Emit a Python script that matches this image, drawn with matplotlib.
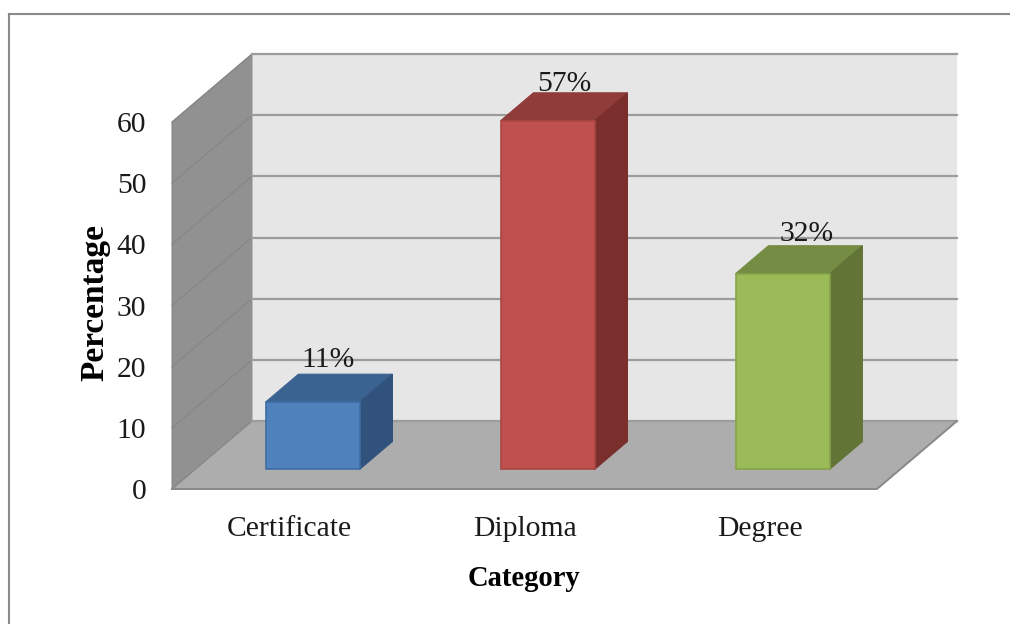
# 3D look column chart, Excel style, drawn by hand in 2D axes
import matplotlib
matplotlib.use("Agg")
import matplotlib.pyplot as plt
from matplotlib.lines import Line2D
from matplotlib.patches import Polygon

categories = ["Certificate", "Diploma", "Degree"]
percent = [11, 57, 32]
yticks = [0, 10, 20, 30, 40, 50, 60]

front = ["#4f81bd", "#c0504d", "#9bbb59"]
top = ["#3b6391", "#8f3c3a", "#748c43"]
side = ["#31527c", "#7a2f2d", "#627536"]
edge = ["#3f6da3", "#a94643", "#86a34a"]

# depth of the box, in data units
dx, dy = 0.34, 11.1
# bars sit between these fractions of the depth
d0, d1 = 0.29, 0.70
bar_w = 0.4
label_nudge = [-1.5, 0, 8]  # px
label_lift = [7, 2, 5]  # px

W, H = 1010, 624
plt.rcParams["font.family"] = ["Liberation Serif"]
fig = plt.figure(figsize=(W/100, H/100), dpi=100)
ax = fig.add_axes([172/W, (H-489)/H, 705/W, 367/H])
ax.set(xlim=[-0.5, 2.5], ylim=[0, 60])
for s in ax.spines.values():
    s.set_visible(False)
ax.patch.set_visible(False)

# outer frame, runs off the right and bottom
for xs, ys in (([9/W, 1], [1-14/H, 1-14/H]), ([9/W, 9/W], [0, 1-14/H])):
    fig.add_artist(Line2D(xs, ys, color="#8a8a8a", lw=1.5))

x0, x1 = ax.get_xlim()
y0, y1 = ax.get_ylim()


def poly(pts, fc, ec="none", lw=0.8, z=1):
    ax.add_patch(Polygon(pts, closed=True, fc=fc, ec=ec, lw=lw, zorder=z, clip_on=False))


# walls and floor
poly([(x0+dx, y0+dy), (x1+dx, y0+dy), (x1+dx, y1+dy), (x0+dx, y1+dy)], "#e6e6e6")
poly([(x0, y0), (x0+dx, y0+dy), (x0+dx, y1+dy), (x0, y1)], "#919191", "#8a8a8a")
poly([(x0, y0), (x1, y0), (x1+dx, y0+dy), (x0+dx, y0+dy)], "#adadad", "#9a9a9a")

for v in yticks:
    ax.plot([x0, x0+dx], [v, v+dy], color="#858585", lw=0.8, zorder=2, clip_on=False)
    ax.plot([x0+dx, x1+dx], [v+dy, v+dy], color="#9c9c9c", lw=1.6, zorder=2, clip_on=False)
ax.plot([x0, x1, x1+dx], [y0, y0, y0+dy], color="#8a8a8a", lw=1.4, zorder=3, clip_on=False)

# bars
for i, v in enumerate(percent):
    l, r = i - bar_w/2 + d0*dx, i + bar_w/2 + d0*dx
    b, t = d0*dy, v + d0*dy
    ox, oy = (d1-d0)*dx, (d1-d0)*dy
    poly([(l, t), (r, t), (r+ox, t+oy), (l+ox, t+oy)], top[i], top[i], z=4)
    poly([(r, b), (r+ox, b+oy), (r+ox, t+oy), (r, t)], side[i], side[i], z=4)
    poly([(l, b), (r, b), (r, t), (l, t)], front[i], edge[i], lw=1.2, z=5)
    ax.annotate(f"{v}%", ((l+r+ox)/2, t+oy), xytext=(label_nudge[i]*0.72, label_lift[i]*0.72),
                textcoords="offset points", ha="center", va="baseline", annotation_clip=False,
                fontsize=21.3, color="#1a1a1a", zorder=6)

ax.set_xticks(range(len(categories)), categories)
ax.set_yticks(yticks)
ax.tick_params(axis="x", length=0, pad=19.5, labelsize=21.3, labelcolor="#1a1a1a")
ax.tick_params(axis="y", length=0, pad=18.5, labelsize=21.3, labelcolor="#1a1a1a")

ax.set_xlabel("Category", fontsize=20.6, fontweight="bold", va="center")
ax.xaxis.set_label_coords(0.499, -0.245)
ax.set_ylabel("Percentage", fontsize=24, fontweight="bold", va="center")
ax.yaxis.set_label_coords(-0.11, 0.507)

fig.savefig("out.png", dpi=100)
